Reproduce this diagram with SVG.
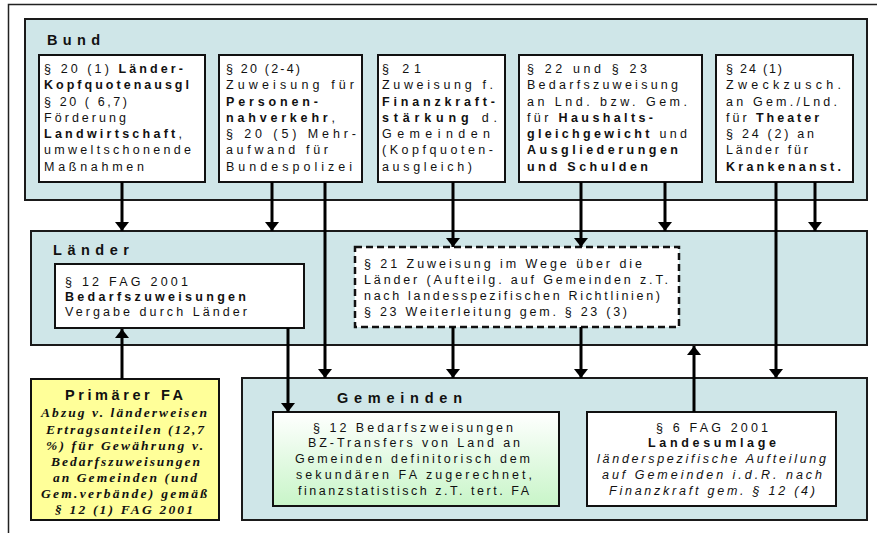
<svg xmlns="http://www.w3.org/2000/svg" width="877" height="533" viewBox="0 0 877 533">
<defs>
<style>
.panel{fill:#cfe6e8;stroke:#1a1a1a;stroke-width:2}
.box{fill:#fff;stroke:#111;stroke-width:2}
.t{font-family:"Liberation Sans",Arial,sans-serif;font-size:12.5px;fill:#111}
.c{text-anchor:middle}
.b{font-weight:bold}
.i{font-style:italic}
.s{font-family:"Liberation Serif","Times New Roman",serif;font-size:13.5px;font-style:italic;font-weight:bold;fill:#111;text-anchor:middle}
.title{font-family:"Liberation Sans",Arial,sans-serif;font-size:14.5px;font-weight:bold;fill:#111}
.con{stroke:#000;stroke-width:3;fill:none;marker-end:url(#ah)}
</style>
<marker id="ah" markerUnits="userSpaceOnUse" markerWidth="10" markerHeight="14" refX="9" refY="7" orient="auto">
<path d="M0,0 L9,7 L0,14 z" fill="#000"/>
</marker>
<linearGradient id="gr" x1="0" y1="0" x2="0" y2="1">
<stop offset="0" stop-color="#ffffff"/>
<stop offset="1" stop-color="#c8f5c8"/>
</linearGradient>
</defs>
<rect x="8.5" y="4.5" width="900" height="600" fill="#fff" stroke="#222" stroke-width="1.5"/>

<g id="bund">
<rect class="panel" x="25" y="19" width="842" height="181"/>
<text class="title" x="47" y="45" textLength="53" lengthAdjust="spacing">Bund</text>
</g>

<g id="box1">
<rect class="box" x="39" y="55" width="166" height="127"/>
<text class="t" x="44" y="73" textLength="139" lengthAdjust="spacing">§ 20 (1) <tspan class="b">Länder-</tspan></text>
<text class="t b" x="44" y="89" textLength="145" lengthAdjust="spacing">Kopfquotenausgl</text>
<text class="t" x="44" y="105.5" textLength="83" lengthAdjust="spacing">§ 20 ( 6,7)</text>
<text class="t" x="44" y="121.5" textLength="82" lengthAdjust="spacing">Förderung</text>
<text class="t" x="44" y="138" textLength="138" lengthAdjust="spacing"><tspan class="b">Landwirtschaft</tspan>,</text>
<text class="t" x="44" y="154" textLength="147" lengthAdjust="spacing">umweltschonende</text>
<text class="t" x="44" y="170.5" textLength="100" lengthAdjust="spacing">Maßnahmen</text>
</g>

<g id="box2">
<rect class="box" x="219" y="55" width="143" height="127"/>
<text class="t" x="226" y="73" textLength="74" lengthAdjust="spacing">§ 20 (2-4)</text>
<text class="t" x="226" y="89" textLength="128" lengthAdjust="spacing">Zuweisung für</text>
<text class="t b" x="226" y="105.5" textLength="92" lengthAdjust="spacing">Personen-</text>
<text class="t" x="226" y="121.5" textLength="109" lengthAdjust="spacing"><tspan class="b">nahverkehr</tspan>,</text>
<text class="t" x="226" y="138" textLength="130" lengthAdjust="spacing">§ 20 (5) Mehr-</text>
<text class="t" x="226" y="154" textLength="102" lengthAdjust="spacing">aufwand für</text>
<text class="t" x="226" y="170.5" textLength="126" lengthAdjust="spacing">Bundespolizei</text>
</g>

<g id="box3">
<rect class="box" x="378" y="55" width="127" height="127"/>
<text class="t" x="382" y="73" textLength="39" lengthAdjust="spacing">§ 21</text>
<text class="t" x="382" y="89" textLength="111" lengthAdjust="spacing">Zuweisung f.</text>
<text class="t b" x="382" y="105.5" textLength="113" lengthAdjust="spacing">Finanzkraft-</text>
<text class="t" x="382" y="121.5" textLength="115" lengthAdjust="spacing"><tspan class="b">stärkung</tspan> d.</text>
<text class="t" x="382" y="138" textLength="108" lengthAdjust="spacing">Gemeinden</text>
<text class="t" x="382" y="154" textLength="111" lengthAdjust="spacing">(Kopfquoten-</text>
<text class="t" x="382" y="170.5" textLength="90" lengthAdjust="spacing">ausgleich)</text>
</g>

<g id="box4">
<rect class="box" x="519" y="55" width="183" height="127"/>
<text class="t" x="527" y="73" textLength="120" lengthAdjust="spacing">§ 22 und § 23</text>
<text class="t" x="527" y="89" textLength="151" lengthAdjust="spacing">Bedarfszuweisung</text>
<text class="t" x="527" y="105.5" textLength="160" lengthAdjust="spacing">an Lnd. bzw. Gem.</text>
<text class="t" x="527" y="121.5" textLength="126" lengthAdjust="spacing">für <tspan class="b">Haushalts-</tspan></text>
<text class="t" x="527" y="138" textLength="160" lengthAdjust="spacing"><tspan class="b">gleichgewicht</tspan> und</text>
<text class="t b" x="527" y="154" textLength="151" lengthAdjust="spacing">Ausgliederungen</text>
<text class="t b" x="527" y="170.5" textLength="121" lengthAdjust="spacing">und Schulden</text>
</g>

<g id="box5">
<rect class="box" x="716" y="55" width="137" height="127"/>
<text class="t" x="726" y="73" textLength="56" lengthAdjust="spacing">§ 24 (1)</text>
<text class="t" x="726" y="89" textLength="115" lengthAdjust="spacing">Zweckzusch.</text>
<text class="t" x="726" y="105.5" textLength="111" lengthAdjust="spacing">an Gem./Lnd.</text>
<text class="t" x="726" y="121.5" textLength="93" lengthAdjust="spacing">für <tspan class="b">Theater</tspan></text>
<text class="t" x="726" y="138" textLength="88" lengthAdjust="spacing">§ 24 (2) an</text>
<text class="t" x="726" y="154" textLength="82" lengthAdjust="spacing">Länder für</text>
<text class="t b" x="726" y="170.5" textLength="115" lengthAdjust="spacing">Krankenanst.</text>
</g>

<g id="laender">
<rect class="panel" x="31" y="231" width="836" height="114"/>
<text class="title" x="53" y="255" textLength="76" lengthAdjust="spacing">Länder</text>
</g>

<g id="bz-laender">
<rect class="box" x="55" y="264" width="249" height="64"/>
<text class="t" x="65" y="286" textLength="123" lengthAdjust="spacing">§ 12 FAG 2001</text>
<text class="t b" x="65" y="301" textLength="181" lengthAdjust="spacing">Bedarfszuweisungen</text>
<text class="t" x="65" y="316" textLength="182" lengthAdjust="spacing">Vergabe durch Länder</text>
</g>

<g id="weg-laender">
<rect x="355" y="247" width="324" height="80" fill="#fff" stroke="#111" stroke-width="2.5" stroke-dasharray="7,4"/>
<text class="t" x="364" y="268" textLength="278" lengthAdjust="spacing">§ 21 Zuweisung im Wege über die</text>
<text class="t" x="364" y="284" textLength="304" lengthAdjust="spacing">Länder (Aufteilg. auf Gemeinden z.T.</text>
<text class="t" x="364" y="300" textLength="296" lengthAdjust="spacing">nach landesspezifischen Richtlinien)</text>
<text class="t" x="364" y="316" textLength="263" lengthAdjust="spacing">§ 23 Weiterleitung gem. § 23 (3)</text>
</g>

<g id="primaer">
<rect x="31" y="379" width="188" height="141" fill="#ffff99" stroke="#111" stroke-width="2"/>
<text class="title c" x="124" y="400" textLength="118" lengthAdjust="spacing">Primärer FA</text>
<text class="s" x="124" y="417" textLength="166" lengthAdjust="spacing">Abzug v. länderweisen</text>
<text class="s" x="125" y="433.5" textLength="158" lengthAdjust="spacing">Ertragsanteilen (12,7</text>
<text class="s" x="124.5" y="450" textLength="157" lengthAdjust="spacing">%) für Gewährung v.</text>
<text class="s" x="125.5" y="466" textLength="149" lengthAdjust="spacing">Bedarfszuweisungen</text>
<text class="s" x="125" y="482" textLength="144" lengthAdjust="spacing">an Gemeinden (und</text>
<text class="s" x="124" y="498" textLength="166" lengthAdjust="spacing">Gem.verbände) gemäß</text>
<text class="s" x="124" y="514" textLength="138" lengthAdjust="spacing">§ 12 (1) FAG 2001</text>
</g>

<g id="gemeinden">
<rect class="panel" x="242" y="378" width="625" height="142"/>
<text class="title" x="337" y="403" textLength="125" lengthAdjust="spacing">Gemeinden</text>
</g>

<g id="bz-gemeinden">
<rect x="273" y="412" width="286" height="94" fill="url(#gr)" stroke="#111" stroke-width="2"/>
<text class="t c" x="413" y="432" textLength="200" lengthAdjust="spacing">§ 12 Bedarfszweisungen</text>
<text class="t c" x="414" y="447" textLength="212" lengthAdjust="spacing">BZ-Transfers von Land an</text>
<text class="t c" x="412.5" y="463" textLength="235" lengthAdjust="spacing">Gemeinden definitorisch dem</text>
<text class="t c" x="414" y="478.5" textLength="236" lengthAdjust="spacing">sekundären FA zugerechnet,</text>
<text class="t c" x="413.5" y="494.5" textLength="231" lengthAdjust="spacing">finanzstatistisch z.T. tert. FA</text>
</g>

<g id="landesumlage">
<rect class="box" x="587" y="412" width="249" height="94"/>
<text class="t c" x="712" y="432" textLength="112" lengthAdjust="spacing">§ 6 FAG 2001</text>
<text class="t c b" x="712" y="447" textLength="128" lengthAdjust="spacing">Landesumlage</text>
<text class="t c i" x="711.5" y="463" textLength="229" lengthAdjust="spacing">länderspezifische Aufteilung</text>
<text class="t c i" x="712" y="478.5" textLength="220" lengthAdjust="spacing">auf Gemeinden i.d.R. nach</text>
<text class="t c i" x="712" y="494.5" textLength="206" lengthAdjust="spacing">Finanzkraft gem. § 12 (4)</text>
</g>

<g id="connectors">
<line class="con" x1="122" y1="182" x2="122" y2="231"/>
<line class="con" x1="272" y1="182" x2="272" y2="231"/>
<line class="con" x1="325" y1="182" x2="325" y2="378"/>
<line class="con" x1="453" y1="182" x2="453" y2="247"/>
<line class="con" x1="581" y1="182" x2="581" y2="247"/>
<line class="con" x1="665" y1="182" x2="665" y2="231"/>
<line class="con" x1="776" y1="182" x2="776" y2="378"/>
<line class="con" x1="815" y1="182" x2="815" y2="231"/>
<line class="con" x1="453" y1="327" x2="453" y2="378"/>
<line class="con" x1="581" y1="327" x2="581" y2="378"/>
<line class="con" x1="288" y1="328" x2="288" y2="412"/>
<line class="con" x1="122" y1="379" x2="122" y2="329"/>
<line class="con" x1="694" y1="412" x2="694" y2="346"/>
</g>
</svg>
